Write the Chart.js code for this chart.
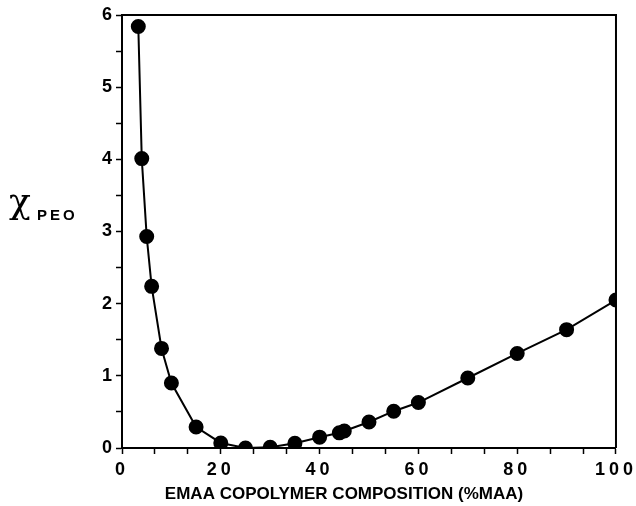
<!DOCTYPE html>
<html>
<head>
<meta charset="utf-8">
<script src="https://cdn.jsdelivr.net/npm/chart.js@4.4.1/dist/chart.umd.min.js"></script>
<style>
  html, body { margin: 0; padding: 0; background: #fff; }
</style>
</head>
<body>
<canvas id="chiChart" width="636" height="506"></canvas>
<script>
// composition (%MAA) and chi values
const maaPercent = [3.3, 4, 5, 6, 8, 10, 15, 20, 25, 30, 35, 40, 44, 45, 50, 55, 60, 70, 80, 90, 100];
const chiPEO = [5.84, 4.01, 2.93, 2.24, 1.38, 0.9, 0.29, 0.07, 0.0, 0.01, 0.065, 0.15, 0.21, 0.235, 0.36, 0.51, 0.63, 0.97, 1.31, 1.64, 2.05];

const xMajorTicks = [0, 20, 40, 60, 80, 100];
const yMajorTicks = [0, 1, 2, 3, 4, 5, 6];

const xTitle = "EMAA COPOLYMER COMPOSITION (%MAA)";
const yTitleMain = "\u03C7";
const yTitleSub = "PEO";

const points = maaPercent.map((x, i) => ({ x: x, y: chiPEO[i] }));

// frame + labels that chart.js can't place the way the figure does
const extras = {
  id: "extras",
  beforeDraw(chart) {
    // old-style spaced digits on the tick labels
    chart.ctx.letterSpacing = "4px";
  },
  afterDraw(chart) {
    const ctx = chart.ctx;
    const a = chart.chartArea;
    ctx.save();
    ctx.letterSpacing = "0px";
    ctx.strokeStyle = "#000";
    ctx.lineWidth = 2;
    ctx.beginPath();
    ctx.moveTo(a.left, a.top);
    ctx.lineTo(a.right, a.top);
    ctx.lineTo(a.right, a.bottom);
    ctx.stroke();

    ctx.fillStyle = "#000";
    ctx.textAlign = "center";
    ctx.textBaseline = "middle";
    ctx.font = "bold 17px 'Liberation Sans', Arial, sans-serif";
    ctx.fillText(xTitle, (a.left + a.right) / 2 - 25, 494);

    ctx.textAlign = "left";
    ctx.textBaseline = "alphabetic";
    ctx.font = "36px 'DejaVu Serif', serif";
    ctx.fillText(yTitleMain, 9, 213);
    ctx.letterSpacing = "3px";
    ctx.font = "bold 15px 'Liberation Sans', Arial, sans-serif";
    ctx.fillText(yTitleSub, 37, 220);
    ctx.restore();
  }
};

const ctx = document.getElementById("chiChart").getContext("2d");
new Chart(ctx, {
  type: "scatter",
  data: {
    datasets: [
      {
        data: points,
        showLine: true,
        borderColor: "#000",
        borderWidth: 2,
        backgroundColor: "#000",
        pointRadius: 6.5,
        pointHoverRadius: 6.5,
        tension: 0,
        clip: 0,
      },
    ],
  },
  options: {
    responsive: false,
    animation: false,
    devicePixelRatio: 1,
    layout: { padding: { left: 0, top: 15, right: 20, bottom: 0 } },
    plugins: { legend: { display: false }, tooltip: { enabled: false } },
    scales: {
      x: {
        type: "linear",
        min: 0,
        max: 100,
        afterBuildTicks: (s) => {
          const t = [];
          for (let i = 0; i <= 15; i++) t.push({ value: (i * 20) / 3 });
          s.ticks = t;
        },
        afterFit: (s) => { s.height = 58; },
        grid: { drawOnChartArea: false, tickLength: 6, tickColor: "#000", tickWidth: 1.5 },
        border: { color: "#000", width: 2 },
        ticks: {
          autoSkip: false,
          maxRotation: 0,
          padding: 5,
          color: "#000",
          font: { family: "'Liberation Sans', Arial, sans-serif", size: 18, weight: "bold" },
          callback: (v) => {
            const r = Math.round(v);
            return Math.abs(v - r) < 1e-6 && xMajorTicks.includes(r) ? String(r) : "";
          },
        },
      },
      y: {
        type: "linear",
        min: 0,
        max: 6,
        afterBuildTicks: (s) => {
          const t = [];
          for (let i = 0; i <= 12; i++) t.push({ value: i / 2 });
          s.ticks = t;
        },
        afterFit: (s) => { s.width = 122; },
        grid: { drawOnChartArea: false, tickLength: 6, tickColor: "#000", tickWidth: 1.5 },
        border: { color: "#000", width: 2 },
        ticks: {
          autoSkip: false,
          padding: 0,
          color: "#000",
          font: { family: "'Liberation Sans', Arial, sans-serif", size: 18, weight: "bold" },
          callback: (v) => (yMajorTicks.includes(v) ? String(v) : ""),
        },
      },
    },
  },
  plugins: [extras],
});
</script>
</body>
</html>
